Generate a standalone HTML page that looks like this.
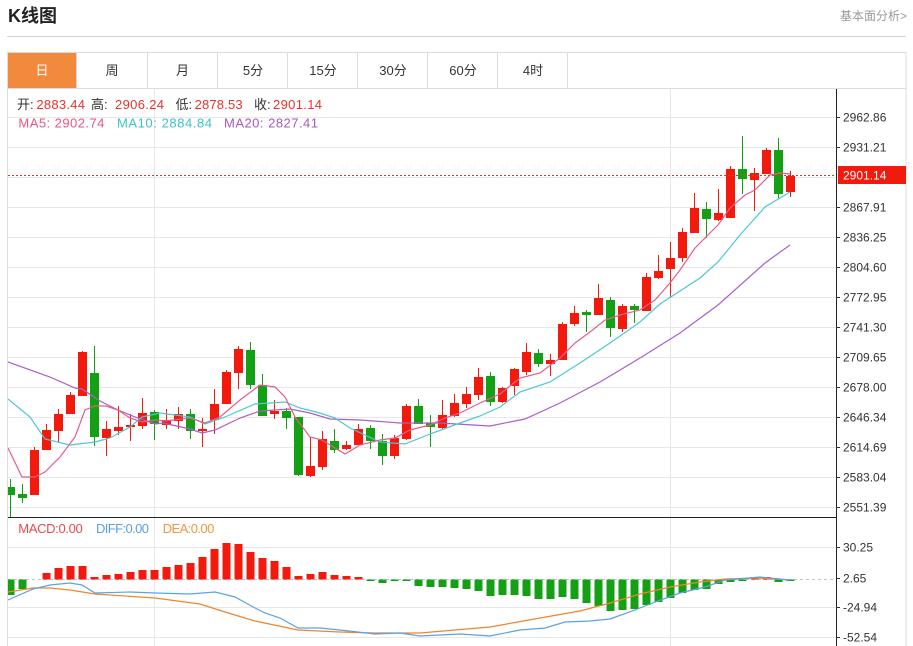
<!DOCTYPE html>
<html><head><meta charset="utf-8"><style>
html,body{margin:0;padding:0;background:#fff;}
svg{display:block;font-family:"Liberation Sans","Noto Sans CJK SC",sans-serif;}
</style></head><body>
<svg width="913" height="646" viewBox="0 0 913 646" xmlns="http://www.w3.org/2000/svg">
<defs><clipPath id="c"><rect x="8" y="88" width="828" height="558"/></clipPath></defs>
<rect width="913" height="646" fill="#fff"/>
<!-- header -->
<text x="8" y="22" font-size="18" font-weight="bold" fill="#222">K线图</text>
<text x="840" y="20" font-size="12" fill="#999">基本面分析&gt;</text>
<line x1="7" y1="36.5" x2="906" y2="36.5" stroke="#d4d4d4"/>
<!-- frame -->
<rect x="7.5" y="52.5" width="898.5" height="600" fill="none" stroke="#dcdcdc"/>
<rect x="8" y="53" width="68.6" height="35" fill="#f18a3d"/>
<g stroke="#dcdcdc">
<line x1="76.6" y1="52" x2="76.6" y2="88"/><line x1="147.5" y1="52" x2="147.5" y2="88"/>
<line x1="217.5" y1="52" x2="217.5" y2="88"/><line x1="287.5" y1="52" x2="287.5" y2="88"/>
<line x1="357.5" y1="52" x2="357.5" y2="88"/><line x1="427.5" y1="52" x2="427.5" y2="88"/>
<line x1="497.5" y1="52" x2="497.5" y2="88"/><line x1="567.5" y1="52" x2="567.5" y2="88"/>
<line x1="7" y1="88.5" x2="906" y2="88.5"/>
</g>
<g font-size="13" fill="#333" text-anchor="middle">
<text x="42" y="75" fill="#fff">日</text><text x="112" y="75">周</text><text x="182.5" y="75">月</text>
<text x="253" y="75">5分</text><text x="323" y="75">15分</text><text x="393" y="75">30分</text>
<text x="463" y="75">60分</text><text x="533" y="75">4时</text>
</g>
<!-- grid -->
<g stroke="#e8e8e8">
<line x1="8" y1="117.5" x2="836" y2="117.5"/><line x1="8" y1="147.5" x2="836" y2="147.5"/>
<line x1="8" y1="177.5" x2="836" y2="177.5"/><line x1="8" y1="207.5" x2="836" y2="207.5"/>
<line x1="8" y1="237.5" x2="836" y2="237.5"/><line x1="8" y1="267.5" x2="836" y2="267.5"/>
<line x1="8" y1="297.5" x2="836" y2="297.5"/><line x1="8" y1="327.5" x2="836" y2="327.5"/>
<line x1="8" y1="357.5" x2="836" y2="357.5"/><line x1="8" y1="387.5" x2="836" y2="387.5"/>
<line x1="8" y1="417.5" x2="836" y2="417.5"/><line x1="8" y1="447.5" x2="836" y2="447.5"/>
<line x1="8" y1="477.5" x2="836" y2="477.5"/><line x1="8" y1="507.5" x2="836" y2="507.5"/>
<line x1="8" y1="547.5" x2="836" y2="547.5"/><line x1="8" y1="607.5" x2="836" y2="607.5"/>
<line x1="8" y1="637.5" x2="836" y2="637.5"/>
<line x1="154.5" y1="88" x2="154.5" y2="646"/><line x1="670.5" y1="88" x2="670.5" y2="646"/>
</g>
<!-- legend -->
<g font-size="13">
<text x="17" y="109" fill="#333">开:</text><text x="36.4" y="109" fill="#e8332a" textLength="48.6">2883.44</text>
<text x="91" y="109" fill="#333">高:</text><text x="115" y="109" fill="#e8332a" textLength="49">2906.24</text>
<text x="175.5" y="109" fill="#333">低:</text><text x="194.6" y="109" fill="#e8332a" textLength="48">2878.53</text>
<text x="254" y="109" fill="#333">收:</text><text x="273" y="109" fill="#e8332a" textLength="49">2901.14</text>
<text x="18.4" y="127.5" fill="#e6557f" textLength="86">MA5: 2902.74</text>
<text x="117" y="127.5" fill="#3cc2ca" textLength="95">MA10: 2884.84</text>
<text x="224" y="127.5" fill="#a558c5" textLength="94">MA20: 2827.41</text>
<text x="18.3" y="533" fill="#e84a4a" textLength="64.4">MACD:0.00</text>
<text x="96" y="533" fill="#5aa0e0" textLength="53">DIFF:0.00</text>
<text x="162.7" y="533" fill="#f0963c" textLength="51.6">DEA:0.00</text>
</g>
<g clip-path="url(#c)">
<!-- candles red -->
<path fill="none" stroke="#f2190d" stroke-width="1" d="M34.5 447V495 M46.5 424V450 M58.5 409V442 M70.5 392V414 M82.5 351V396 M106.5 421V456 M118.5 406V435 M130.5 414V441 M142.5 398V429 M166.5 409V429 M178.5 407V429 M202.5 418V447 M214.5 389V434 M226.5 370V404 M238.5 346V389 M274.5 400V419 M310.5 437V477 M322.5 431V470 M346.5 441V450 M358.5 424V445 M394.5 435V459 M406.5 404V440 M442.5 400V429 M454.5 394V417 M466.5 387V408 M478.5 368V400 M502.5 387V403 M514.5 368V395 M526.5 343V375 M550.5 354V376 M562.5 322V360 M574.5 306V326 M598.5 284V315 M622.5 304V332 M646.5 273V311 M658.5 255V279 M670.5 242V298 M682.5 228V262 M694.5 193V233 M718.5 189V221 M730.5 166V218 M754.5 168V211 M766.5 148V174 M790.5 171V197"/>
<path fill="#f2190d" d="M30 450h9v45h-9z M42 430h9v20h-9z M54 414h9v17h-9z M66 395h9v19h-9z M78 352h9v44h-9z M102 429h9v9h-9z M114 427h9v4h-9z M126 425h9v2h-9z M138 413h9v13h-9z M162 420h9v5h-9z M174 414h9v7h-9z M198 429h9v2h-9z M210 404h9v16h-9z M222 372h9v32h-9z M234 349h9v24h-9z M270 411h9v3h-9z M306 466h9v10h-9z M318 439h9v28h-9z M342 445h9v4h-9z M354 429h9v16h-9z M390 438h9v18h-9z M402 406h9v33h-9z M438 415h9v13h-9z M450 403h9v13h-9z M462 394h9v10h-9z M474 377h9v18h-9z M498 388h9v14h-9z M510 369h9v17h-9z M522 352h9v20h-9z M546 360h9v4h-9z M558 324h9v36h-9z M570 313h9v11h-9z M594 298h9v17h-9z M618 306h9v23h-9z M642 277h9v34h-9z M654 271h9v7h-9z M666 258h9v11h-9z M678 232h9v26h-9z M690 208h9v25h-9z M714 213h9v7h-9z M726 169h9v49h-9z M750 173h9v7h-9z M762 150h9v24h-9z M786 176h9v16h-9z"/>
<!-- candles green -->
<path fill="none" stroke="#14a014" stroke-width="1" d="M10.5 479V517 M22.5 484V503 M94.5 346V446 M154.5 410V440 M190.5 409V439 M250.5 342V389 M262.5 374V416 M286.5 408V429 M298.5 417V476 M334.5 429V453 M370.5 425V449 M382.5 434V465 M418.5 399V424 M430.5 415V447 M490.5 372V406 M538.5 349V367 M586.5 310V332 M610.5 297V337 M634.5 304V323 M706.5 202V238 M742.5 136V194 M778.5 138V198"/>
<path fill="#14a014" d="M6 487h9v8h-9z M18 494h9v4h-9z M90 373h9v64h-9z M150 412h9v12h-9z M186 414h9v17h-9z M246 350h9v35h-9z M258 385h9v31h-9z M282 411h9v7h-9z M294 417h9v58h-9z M330 441h9v9h-9z M366 428h9v13h-9z M378 441h9v15h-9z M414 406h9v18h-9z M426 423h9v4h-9z M486 376h9v26h-9z M534 353h9v11h-9z M582 312h9v3h-9z M606 300h9v28h-9z M630 306h9v4h-9z M702 209h9v10h-9z M738 169h9v10h-9z M774 150h9v44h-9z"/>
<!-- MA lines -->
<polyline fill="none" stroke="#a860c8" stroke-width="1.2" points="8,362 50,377 75,388 82,389 100,401 118,410 135,417 155,424 163,423 190,429 202,433 215,430 240,418 260,411 290,409 310,413 330,419 360,420 400,423 440,423 490,426 525,419 560,403 600,382 640,358 680,333 718,305 765,263 790,245"/>
<polyline fill="none" stroke="#4cc8d4" stroke-width="1.2" points="8,399 30,417 45,439 70,445 95,442 110,438 130,427 142,417 160,413 190,417 205,424 225,417 255,404 285,402 300,408 320,413 335,418 350,428 380,442 405,444 430,434 460,423 480,416 500,407 520,392 550,382 580,363 610,343 640,322 660,304 680,291 700,278 718,262 740,235 765,207 790,192"/>
<polyline fill="none" stroke="#e65d8a" stroke-width="1.2" points="8,448 22,477 35,477 45,472 60,457 75,437 85,410 95,406 106,406 118,410 130,418 142,422 155,420 165,421 190,418 205,423 220,417 240,400 260,385 275,387 285,397 295,417 310,437 322,440 345,454 360,445 380,440 395,438 410,430 430,425 445,418 460,413 480,403 500,394 520,378 540,373 560,358 575,343 590,332 605,320 620,315 640,310 655,300 670,283 680,270 695,248 718,225 730,208 745,195 755,190 770,175 780,173 790,174"/>
<!-- last price dashed -->
<line x1="8" y1="175.5" x2="836" y2="175.5" stroke="#e8332a" stroke-dasharray="2,2"/>
<!-- MACD -->
<line x1="8" y1="579.5" x2="836" y2="579.5" stroke="#b8c8d8" stroke-dasharray="3,3"/>
<path fill="#f2190d" d="M42.5 573h8V579.5h-8z M54.5 568h8V579.5h-8z M66.5 566h8V579.5h-8z M78.5 566h8V579.5h-8z M90.5 577h8V579.5h-8z M102.5 575h8V579.5h-8z M114.5 574h8V579.5h-8z M126.5 572h8V579.5h-8z M138.5 570h8V579.5h-8z M150.5 570h8V579.5h-8z M162.5 567h8V579.5h-8z M174.5 565h8V579.5h-8z M186.5 563h8V579.5h-8z M198.5 557h8V579.5h-8z M210.5 549h8V579.5h-8z M222.5 543h8V579.5h-8z M234.5 544h8V579.5h-8z M246.5 552h8V579.5h-8z M258.5 558h8V579.5h-8z M270.5 561h8V579.5h-8z M282.5 567h8V579.5h-8z M294.5 576h8V579.5h-8z M306.5 574h8V579.5h-8z M318.5 572h8V579.5h-8z M330.5 575h8V579.5h-8z M342.5 576h8V579.5h-8z M354.5 577h8V579.5h-8z M750.5 578.5h8V579.5h-8z M762.5 577h8V579.5h-8z"/>
<path fill="#14a014" d="M6.5 579.5h8V595h-8z M18.5 579.5h8V589h-8z M366.5 579.5h8V581h-8z M378.5 579.5h8V583h-8z M390.5 579.5h8V581h-8z M402.5 579.5h8V581h-8z M414.5 579.5h8V586h-8z M426.5 579.5h8V587h-8z M438.5 579.5h8V587h-8z M450.5 579.5h8V588h-8z M462.5 579.5h8V589h-8z M474.5 579.5h8V591h-8z M486.5 579.5h8V596h-8z M498.5 579.5h8V595h-8z M510.5 579.5h8V595h-8z M522.5 579.5h8V596h-8z M534.5 579.5h8V599h-8z M546.5 579.5h8V599h-8z M558.5 579.5h8V597h-8z M570.5 579.5h8V599h-8z M582.5 579.5h8V603h-8z M594.5 579.5h8V606h-8z M606.5 579.5h8V611h-8z M618.5 579.5h8V610h-8z M630.5 579.5h8V609h-8z M642.5 579.5h8V605h-8z M654.5 579.5h8V602h-8z M666.5 579.5h8V598h-8z M678.5 579.5h8V593h-8z M690.5 579.5h8V590h-8z M702.5 579.5h8V589h-8z M714.5 579.5h8V584h-8z M726.5 579.5h8V582h-8z M738.5 579.5h8V581h-8z M774.5 579.5h8V582h-8z M786.5 579.5h8V581h-8z"/>
<polyline fill="none" stroke="#f0852d" stroke-width="1.2" points="8,592 33,588 50,588 70,590 95,594 155,598 200,604 225,612 255,621 298,630 340,632 375,633 420,633 490,627 540,618 580,611 610,603 640,594 670,587 700,582 725,579 760,578 790,580"/>
<polyline fill="none" stroke="#5ba3e0" stroke-width="1.2" points="8,600 33,589 50,585 70,583 82,585 95,593 130,592 155,593 190,594 215,592 235,597 255,608 265,613 280,618 298,628 320,628 340,630 375,634 400,633 420,636 460,634 490,636 520,630 545,628 565,622 590,621 610,619 635,610 655,602 680,593 705,587 725,580 760,577 790,580"/>
</g>
<!-- axes -->
<line x1="8" y1="517.5" x2="836" y2="517.5" stroke="#222"/>
<line x1="836.5" y1="89" x2="836.5" y2="646" stroke="#222"/>
<g stroke="#333">
<line x1="836" y1="117.5" x2="840" y2="117.5"/><line x1="836" y1="147.5" x2="840" y2="147.5"/>
<line x1="836" y1="207.5" x2="840" y2="207.5"/><line x1="836" y1="237.5" x2="840" y2="237.5"/>
<line x1="836" y1="267.5" x2="840" y2="267.5"/><line x1="836" y1="297.5" x2="840" y2="297.5"/>
<line x1="836" y1="327.5" x2="840" y2="327.5"/><line x1="836" y1="357.5" x2="840" y2="357.5"/>
<line x1="836" y1="387.5" x2="840" y2="387.5"/><line x1="836" y1="417.5" x2="840" y2="417.5"/>
<line x1="836" y1="447.5" x2="840" y2="447.5"/><line x1="836" y1="477.5" x2="840" y2="477.5"/>
<line x1="836" y1="507.5" x2="840" y2="507.5"/>
<line x1="836" y1="547.5" x2="840" y2="547.5"/><line x1="836" y1="578.5" x2="840" y2="578.5"/>
<line x1="836" y1="607.5" x2="840" y2="607.5"/><line x1="836" y1="637.5" x2="840" y2="637.5"/>
</g>
<g font-size="12" fill="#333">
<text x="843" y="121.5">2962.86</text><text x="843" y="151.5">2931.21</text>
<text x="843" y="211.5">2867.91</text><text x="843" y="241.5">2836.25</text>
<text x="843" y="271.5">2804.60</text><text x="843" y="301.5">2772.95</text>
<text x="843" y="331.5">2741.30</text><text x="843" y="361.5">2709.65</text>
<text x="843" y="391.5">2678.00</text><text x="843" y="421.5">2646.34</text>
<text x="843" y="451.5">2614.69</text><text x="843" y="481.5">2583.04</text>
<text x="843" y="511.5">2551.39</text>
<text x="843" y="551.5">30.25</text><text x="843" y="582.5">2.65</text>
<text x="843" y="611.5">-24.94</text><text x="843" y="641.5">-52.54</text>
</g>
<rect x="838" y="166" width="68" height="18" fill="#f2190d"/>
<text x="843" y="179.5" font-size="12" fill="#fff">2901.14</text>
</svg>
</body></html>
